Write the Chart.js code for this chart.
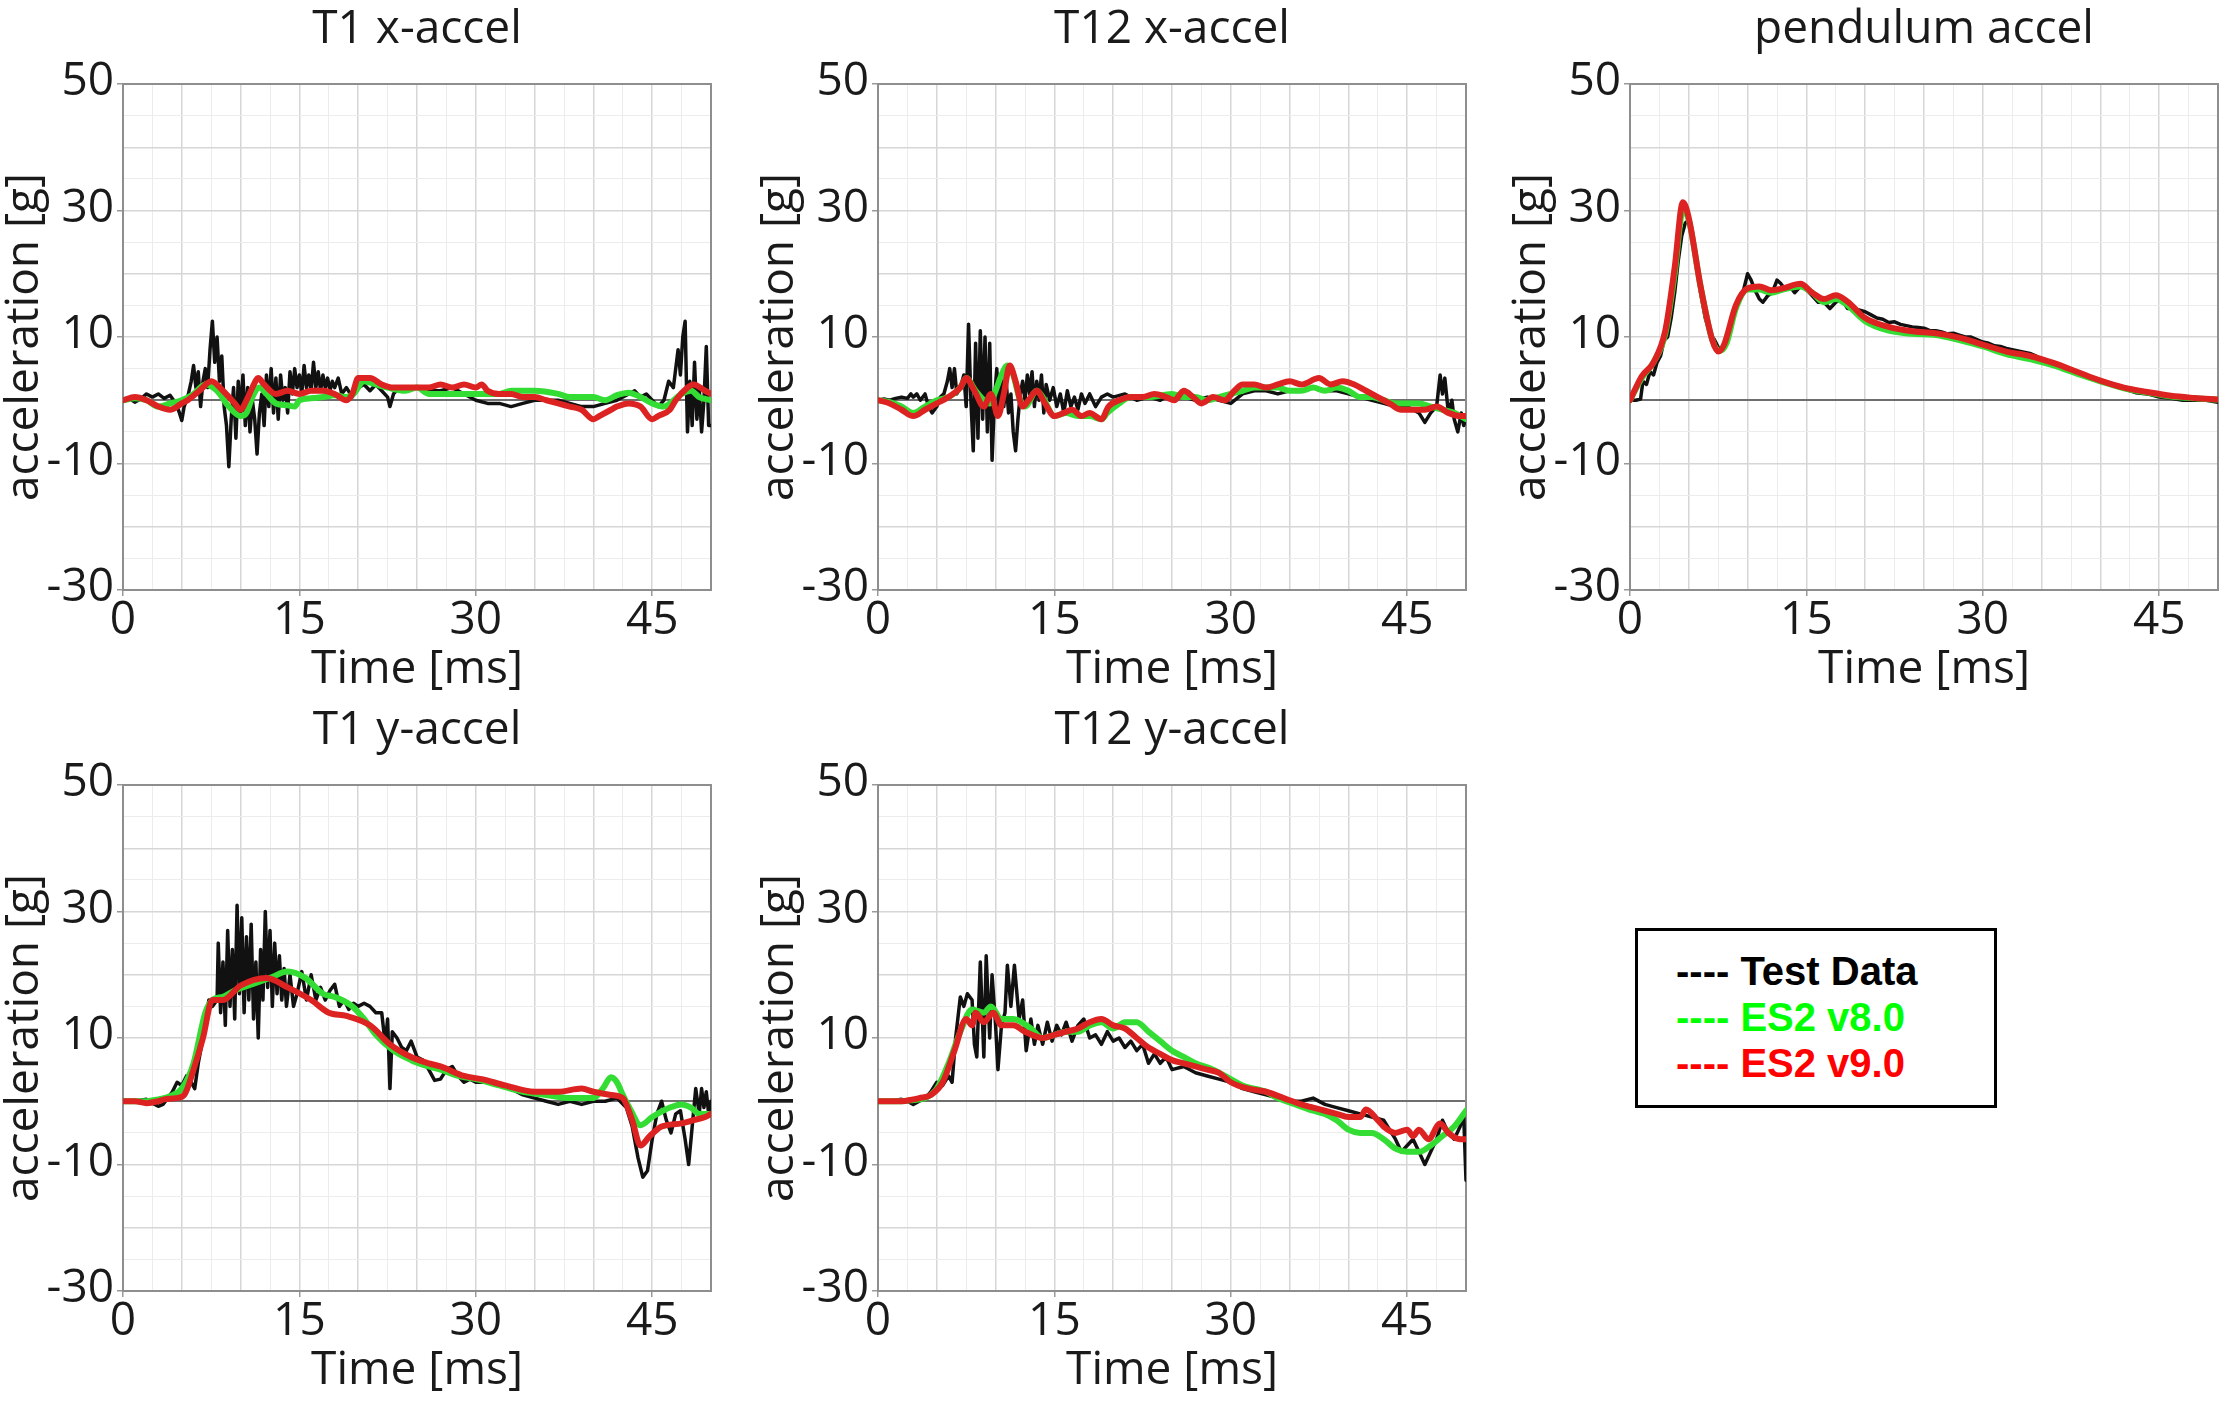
<!DOCTYPE html>
<html><head><meta charset="utf-8">
<script src="https://cdn.jsdelivr.net/npm/chart.js@4.4.1/dist/chart.umd.min.js"></script>
<style>
html,body{margin:0;padding:0;background:#fff;width:2224px;height:1401px;overflow:hidden;}
canvas{position:absolute;}
#legend{position:absolute;left:1635px;top:928px;width:362px;height:180px;box-sizing:border-box;border:3px solid #000;padding:17px 0 0 38px;font-family:'Liberation Sans',Arial,sans-serif;font-weight:bold;font-size:40px;line-height:46px;white-space:pre;}
</style></head><body>
<canvas id="c1" width="740" height="700" style="left:0px;top:0px"></canvas>
<canvas id="c2" width="740" height="700" style="left:755px;top:0px"></canvas>
<canvas id="c3" width="717" height="700" style="left:1507px;top:0px"></canvas>
<canvas id="c4" width="740" height="700" style="left:0px;top:701px"></canvas>
<canvas id="c5" width="740" height="700" style="left:755px;top:701px"></canvas>
<div id="legend"></div>
<script>
// ---------- categories / labels ----------
const panelTitles = ['T1 x-accel','T12 x-accel','pendulum accel','T1 y-accel','T12 y-accel'];
const seriesNames = ['Test Data','ES2 v8.0','ES2 v9.0'];
const xTitle = 'Time [ms]';
const yTitle = 'acceleration [g]';
const xGridValues = [0,2.5,5,7.5,10,12.5,15,17.5,20,22.5,25,27.5,30,32.5,35,37.5,40,42.5,45,47.5,50];
const xTickLabels = [0,15,30,45];
const xMajorGrid = [0,5,10,15,20,25,30,35,40,45,50];
const yGridValues = [-30,-25,-20,-15,-10,-5,0,5,10,15,20,25,30,35,40,45,50];
const yTickLabels = [-30,-10,10,30,50];
const yMajorGrid = [-30,-20,-10,0,10,20,30,40,50];

// ---------- series values [time ms, accel g] ----------
const t1xTest = [[0,0],[0.5,0.3],[1,-0.3],[1.5,0.2],[2,1],[2.5,0.5],[3,1],[3.5,0.3],[4,0.8],[4.5,-0.5],[4.8,-2],[5,-3.2],[5.2,-1],[5.5,0.5],[5.8,3],[6,5.5],[6.2,2],[6.4,4.5],[6.6,-1],[6.8,3],[7,5],[7.2,2],[7.4,8],[7.6,12.5],[7.8,6],[8,10],[8.2,3],[8.4,7],[8.6,-1],[8.8,-4],[9,-10.5],[9.2,-3],[9.4,2],[9.6,-6],[9.8,3],[10,-2],[10.2,4],[10.4,-4],[10.6,2],[10.8,-5],[11,0],[11.2,-3],[11.4,-8.5],[11.6,-2],[11.8,1],[12,-4],[12.2,4],[12.4,-1],[12.6,5],[12.8,-2],[13,3.5],[13.2,-3],[13.4,4],[13.6,0],[13.8,2],[14,-2],[14.2,4.5],[14.4,1],[14.6,5],[14.8,2],[15,4],[15.2,1],[15.4,5.5],[15.6,2],[15.8,4],[16,1.5],[16.2,6],[16.4,2],[16.6,4.5],[16.8,1.5],[17,4],[17.2,2],[17.4,3.5],[17.6,1.5],[17.8,3],[18,2],[18.3,3.5],[18.6,1],[19,2],[19.5,0.5],[20,2],[20.5,2.5],[21,1.5],[21.5,2.5],[22,1.5],[22.5,0.5],[22.7,-1],[23,1],[23.5,2],[24,1.5],[25,2],[26,1.5],[27,1.5],[28,2],[29,1],[30,0],[31,-0.5],[32,-0.5],[33,-1],[34,-0.5],[35,0],[36,0],[37,0],[38,-0.5],[39,-1],[40,-1],[41,-0.5],[42,0],[43,1],[43.5,1.5],[44,0.5],[44.5,1],[45,0],[45.5,-1],[46,0],[46.4,3],[46.8,2],[47.2,8],[47.4,4],[47.6,10],[47.8,12.5],[48,-5],[48.2,3],[48.4,-4],[48.6,6],[48.8,-3],[49,2],[49.2,-5],[49.4,0],[49.6,8.5],[49.8,-4],[50,-4]];
const t1xV8 = [[0,0],[1,0.3],[2,0],[3,-1],[4,-0.5],[5,0],[6,1],[7,2.5],[8,1.5],[9,-1],[10,-2.5],[10.5,-2],[11,0.5],[11.6,2],[12.2,1],[13,-0.5],[14,-0.8],[14.6,-1],[15,0],[16,0.3],[17,0.5],[18,0.8],[19,0.5],[19.6,1],[20.5,3],[21.5,2.5],[22.5,2],[24,1.5],[25,2],[26,1],[28,1],[30,1],[32,1],[33,1.5],[35,1.5],[37,1],[38,0.5],[40,0.5],[41,0],[42,0.8],[43,1.2],[44,0.5],[45,-0.5],[46,-1],[46.5,-0.5],[47.5,1],[48.3,1.5],[49,0.5],[50,0]];
const t1xV9 = [[0,0],[1,0.5],[2,0],[3,-1],[4,-1.5],[5,-0.5],[5.5,0],[6.5,1.5],[7.5,3],[8.5,1.5],[9.5,-0.5],[10,-1.5],[10.5,0],[11,2],[11.5,3.5],[12,2.5],[13,1],[14,1.5],[15,1],[16,1.5],[17,1.5],[18,1],[19,0],[19.5,1],[20,3.5],[21,3.5],[22,2.5],[23,2],[24,2],[25,2],[26,2],[27,2.5],[28,2],[29,2.5],[30,2],[30.5,2.5],[31,1.5],[32,1],[33,1],[34,0.5],[35,0.5],[36,0],[37,-0.5],[38,-1],[39,-1.5],[40,-3],[40.5,-2.5],[41.5,-1.5],[42,-1],[43,-0.5],[44,-1],[45,-3],[45.5,-2.5],[46.5,-1.5],[47,0],[48,2],[48.5,2.5],[49.5,1.5],[50,1]];

const t12xTest = [[0,0],[0.5,0.2],[1,0],[1.5,0.3],[2,0.5],[2.5,0.3],[2.8,1],[3,0.5],[3.3,1],[3.6,0],[4,1],[4.3,-1],[4.6,-2],[5,-1],[5.3,0.5],[5.6,1],[5.9,3],[6.1,5],[6.3,2],[6.5,5],[6.7,1],[7,2],[7.3,4],[7.5,-1],[7.7,12],[7.9,0],[8.1,-8],[8.3,9],[8.5,-6],[8.7,11],[8.9,-3],[9.1,10],[9.3,-5],[9.5,9],[9.7,-9.5],[9.9,0],[10.1,5],[10.3,-2],[10.5,4],[10.7,-1],[10.9,3],[11.1,-2],[11.3,1],[11.5,-5],[11.7,-8],[11.9,-3],[12.1,1],[12.3,3],[12.5,0],[12.7,4],[12.9,1],[13.1,4.5],[13.3,-1],[13.5,3],[13.7,0],[13.9,4],[14.1,-2],[14.3,2.5],[14.6,0],[14.9,2],[15.2,-1],[15.5,1],[15.8,-2],[16.1,1.5],[16.4,-1],[16.7,0.5],[17,-1.5],[17.3,1],[17.6,-0.5],[18,1],[18.5,-1],[19,0.5],[19.5,1],[20,0.5],[21,1],[22,0],[23,0.5],[24,0],[25,1],[26,0.5],[27,0],[28,0.5],[29,0],[30,-0.5],[31,1],[32,1.5],[33,1.5],[34,1],[35,1.5],[36,1.5],[37,2],[38,1.5],[39,1.5],[40,1],[41,0.5],[42,0],[43,-0.5],[44,-1],[45,-1],[45.5,-1.5],[46,-2],[46.5,-3.5],[47,-2],[47.5,-1],[47.8,4],[48,1],[48.2,3.5],[48.5,-2],[48.8,0],[49,-3],[49.3,-5],[49.6,-2],[49.8,-4],[50,-3]];
const t12xV8 = [[0,0],[1,-0.3],[2,-1],[3,-2],[4,-1],[5,0],[6,0.5],[7,2],[7.5,3.5],[8.3,1.5],[9,0],[9.5,-0.5],[10,1.5],[10.5,4],[11,5.5],[11.5,4],[12,0.5],[12.5,-1],[13.5,1.5],[14,0.5],[15,-2.5],[16,-2],[17,-2.5],[18,-2.5],[19,-3],[19.5,-2],[20.5,-0.5],[21.5,0.5],[23,0.5],[25,1],[26,0.5],[27,0.5],[28,0],[29,0.5],[30,1],[31,1.5],[32,2],[33,2],[34,2],[35,1.5],[36,1.5],[37,2],[38,1.5],[39,2],[40,1.5],[41,0.5],[42,0.5],[43,0],[44,-0.5],[45,-0.5],[46,-0.5],[47,-1],[48,-1.5],[49,-2],[50,-3]];
const t12xV9 = [[0,0],[1,-0.5],[2,-1.5],[3,-2.5],[4,-1.5],[5,-0.5],[6,0.5],[7,2],[7.5,3.5],[8.2,1.5],[9,-1],[9.6,1],[10.2,-2.5],[10.7,1],[11.2,5.5],[11.7,3],[12.3,-1],[12.8,0],[13.5,1.5],[14.2,-0.5],[15,-2.5],[15.8,-2],[16.5,-1.5],[17.3,-2.5],[18,-2],[19,-3],[19.6,-1],[20.5,0],[21.5,0.5],[22.5,0.5],[23.5,1],[24.5,0.5],[25.2,0],[26,1.5],[26.8,0.5],[27.5,-0.5],[28.5,0.5],[29.5,0],[30.3,1.5],[31,2.5],[32,2.5],[33,2],[34,2.5],[35,3],[36,2.5],[37.5,3.5],[38.5,2.5],[39.5,3],[40.5,2.5],[41.5,1.5],[42.5,0.5],[43.5,-0.5],[44.5,-1.5],[45.5,-1.5],[46.5,-1.5],[47.5,-1],[48.5,-2],[49.5,-2.5],[50,-2.5]];

const pendTest = [[0,0],[0.5,0],[0.9,0.2],[1.1,3],[1.4,2.5],[1.7,4.5],[2,4],[2.3,6],[2.6,7],[2.9,9.5],[3.2,10],[3.5,13],[3.8,17],[4.1,22],[4.4,26],[4.7,28],[5,28.5],[5.3,26],[5.6,22],[6,17],[6.4,13],[6.8,10.5],[7.2,9.5],[7.6,8],[8,8.5],[8.4,10],[8.8,13],[9.2,15.5],[9.6,17],[10,20],[10.3,19],[10.6,17.5],[11,16],[11.3,15.5],[11.7,16.5],[12.1,17],[12.5,19],[12.8,18.5],[13.2,17.5],[13.6,18],[14,17],[14.5,18],[15,17.5],[15.5,16.5],[16,15.5],[16.5,15.5],[17,14.5],[17.5,15.5],[18,16],[18.5,14.5],[19,14.5],[20,14],[20.5,13.5],[21,13],[21.5,12.8],[22,12.3],[22.5,12.4],[23,12],[23.5,11.8],[24,11.6],[24.5,11.5],[25,11.4],[25.5,11],[26,11],[26.5,10.8],[27,10.5],[27.5,10.6],[28,10.3],[28.5,10],[29,10],[29.5,9.6],[30,9.2],[30.5,9],[31,8.6],[31.5,8.5],[32,8.2],[32.5,8],[33,7.8],[33.5,7.6],[34,7.4],[34.5,7],[35,6.5],[36,5.8],[37,5],[38,4.2],[39,3.5],[40,3],[41,2.5],[42,1.8],[43,1.2],[44,1],[45,0.5],[46,0.3],[47,0],[48,0],[49,0],[50,-0.3]];
const pendV8 = [[0,0],[1,3.5],[2,6],[3,10.5],[3.8,20],[4.5,30],[5,28.5],[6,18],[7,9.5],[7.6,7.8],[8.2,9],[9,14.5],[10,17.5],[11,17.5],[12,17],[13,17.5],[14.5,18],[15.5,17],[16.5,15.5],[17.5,16],[18.5,15],[20,12.5],[22,11],[24,10.5],[26,10.3],[28,9.5],[30,8.5],[32,7.3],[34,6.5],[36,5.5],[38,4.2],[40,3],[42,1.9],[44,1.2],[46,0.6],[48,0.3],[50,0.1]];
const pendV9 = [[0,0],[1,3.8],[2,6],[3,11],[3.8,21],[4.5,31.3],[5,28.8],[6,18],[7,9.5],[7.5,7.7],[8,8.8],[9,15],[10,17.7],[11,18],[12,17.4],[13,17.7],[14.5,18.4],[15.5,17],[16.5,16],[17.5,16.6],[18.5,15.6],[20,13],[22,11.6],[24,10.9],[26,10.6],[28,9.9],[30,8.8],[32,7.7],[34,7],[36,5.9],[38,4.5],[40,3.1],[42,2],[44,1.3],[46,0.7],[48,0.36],[50,0.1]];

const t1yTest = [[0,0],[1,0],[2,0.3],[2.5,-0.3],[3,-0.8],[3.4,-0.5],[3.8,0.5],[4.2,1.5],[4.6,3],[5,2.5],[5.4,4],[5.8,3],[6.1,2],[6.4,6],[6.7,9],[7,12],[7.3,16],[7.6,15],[8,16],[8.1,25],[8.3,14],[8.5,22],[8.7,12],[8.9,27],[9.1,15],[9.3,24],[9.5,13],[9.7,31],[9.9,17],[10.1,29],[10.3,14],[10.5,26],[10.7,16],[10.9,28],[11.1,13],[11.3,22],[11.5,10],[11.7,24],[11.9,16],[12.1,30],[12.3,18],[12.5,27],[12.7,15],[12.9,25],[13.1,17],[13.3,23],[13.5,16],[13.7,21],[13.9,15],[14.2,20],[14.5,15],[14.8,17],[15.2,20.5],[15.6,16],[16,20],[16.4,16],[16.8,18],[17.2,16],[17.6,17.5],[18,18.5],[18.4,15],[18.8,16],[19.2,14.5],[19.6,15.5],[20,15],[20.5,15.5],[21,15],[21.5,14],[22,14],[22.3,9],[22.5,13],[22.7,2],[22.9,11],[23.3,10],[23.7,8.5],[24.1,8],[24.5,9.5],[25,7],[25.5,6.5],[26,5],[26.5,3.3],[27,3.5],[27.5,5],[28,5.5],[28.5,4],[29,3],[29.5,3.5],[30,3],[31,3],[32,2.5],[33,2],[34,1],[35,0.5],[36,0],[37,-0.5],[38,0],[39,-0.5],[40,0],[41,0],[42,0.5],[42.8,-1],[43.3,-4],[43.8,-9],[44.2,-12],[44.6,-11],[45,-6],[45.4,-2],[45.8,0],[46.2,-3],[46.6,-5],[47,-2],[47.4,-1.5],[47.8,-6],[48.1,-10],[48.4,-4],[48.7,2],[49,-2],[49.2,2],[49.4,-1],[49.6,1.5],[49.8,-2],[50,0]];
const t1yV8 = [[0,0],[1,0],[2,0],[3,0.3],[4,0.8],[5,2],[6,6],[7,14],[7.6,16],[8.5,16.5],[9.5,17.5],[11,18.5],[12.5,19.5],[14,20.5],[15.5,19.5],[17,17],[18,16.5],[19.5,15],[20.5,13],[21.5,10.5],[23,8],[24.5,6.5],[26,5.5],[27,5],[28.5,4],[30,3.5],[32,2.5],[34,1.5],[36,1],[38,0.5],[40,0.5],[40.8,2],[41.5,3.8],[42,3],[42.5,1],[43.2,-1.5],[44,-3.8],[45,-2.5],[46.5,-1],[47.5,-0.5],[48.3,-1],[49,-2],[50,-2]];
const t1yV9 = [[0,0],[1,0],[2,-0.3],[3,0],[3.5,0.3],[4.5,0.5],[5.2,1],[6,5],[6.8,10],[7.6,16],[8.5,16],[10,18.3],[12.2,19.5],[14,18],[16,16],[17.5,14],[19,13.5],[21,12],[22.7,9],[24.5,7],[26,6],[27,5.5],[29,4],[30.5,3.5],[32.5,2.5],[35,1.5],[37,1.5],[39,2],[40,1.5],[41.5,1],[42.5,0.5],[43.3,-3],[44,-7],[44.8,-5.5],[45.8,-4],[47.5,-3.5],[48.5,-3],[49.5,-2.5],[50,-2]];

const t12yTest = [[0,0],[1,0],[2,0.3],[2.5,0],[3,-0.5],[3.5,0],[4,0.5],[4.5,1.5],[5,3],[5.5,2.5],[6,4],[6.3,3],[6.6,10],[7,16.5],[7.3,15],[7.6,17],[8,16],[8.2,9],[8.4,7],[8.7,22],[9,7],[9.2,23],[9.5,10],[9.7,20],[10,12],[10.2,5],[10.5,12],[10.8,14],[11,21.5],[11.3,15],[11.6,21.5],[12,13],[12.3,16],[12.6,8],[13,13],[13.3,9],[13.6,12],[14,9],[14.4,12.5],[14.8,9.5],[15.2,12],[15.6,10.5],[16,12.5],[16.5,9.5],[17,12],[17.5,13],[18,10],[18.5,10.5],[19,9],[19.5,11],[20,9.5],[20.5,10],[21,8.5],[21.5,9.5],[22,8],[22.5,9],[23,6],[23.5,7.5],[24,6],[24.5,7],[25,5],[26,5.5],[27,4.5],[28,4],[29,3.5],[30,3],[31,2],[32,1.5],[33,1],[34,0.5],[35,0],[36,0],[37,0.5],[38,-0.5],[39,-1],[40,-1.5],[41,-2],[42,-2.5],[43,-3],[44,-6],[44.5,-8],[45,-7],[45.5,-6],[46,-8],[46.5,-10],[47,-8],[47.5,-6],[48,-3],[48.5,-5],[49,-6],[49.5,-4],[49.8,-2],[50,-12.5]];
const t12yV8 = [[0,0],[1,0],[2,0],[3,0.2],[4,0.5],[5,2],[6,6],[7,11],[8,14.5],[9,14],[9.6,15],[10.5,13],[11.5,13],[13,11.5],[14,10],[15,10.5],[16,11],[17,11],[18,12],[19,12.5],[20,11.5],[21,12.5],[22,12.5],[23,11],[24,9.5],[25,8],[26,7],[27,6],[28.5,5],[30,3.5],[31,2.5],[33,1.5],[34,0.5],[35.5,-0.5],[37,-1.5],[38,-2],[39,-3],[40,-4.5],[41,-5],[42,-5],[43,-6],[44,-7.5],[45,-8],[46,-8],[47,-7],[48,-5.5],[49,-4],[50,-1.5]];
const t12yV9 = [[0,0],[1,0],[2,0],[3,0.3],[3.5,0.5],[4.5,1],[5.5,3],[6.5,8],[7.5,13],[8,12],[8.3,14],[9,12.5],[9.8,14],[10.5,12],[11.5,12],[12.5,11],[14,10],[15,10.5],[16,11],[17,11.5],[18,12.5],[19,13],[20,12],[21,11.5],[22,10],[23,8.5],[24,7.5],[25,6.5],[26,6],[27,5.5],[28,5],[29,4.5],[30,3],[31.5,2],[33,1.5],[34.5,0.5],[36,-0.5],[37,-1],[38,-1.5],[39,-2],[40,-2.5],[41,-2.5],[41.5,-1.3],[42.5,-3],[43,-4],[44,-5],[45,-4.5],[45.5,-5.5],[46,-4.5],[46.8,-6],[47.8,-3.5],[48.5,-5],[49.5,-6],[50,-6]];

// ---------- styling ----------
const FONT = "'Open Sans', 'Noto Sans', sans-serif";
const FS = 46;
const lineColors = ['#111111','#33dd33','#dd2222'];
const legendColors = ['#000000','#00ff00','#ff0000'];
const lineWidths = [3.5,6,6];

const panels = [
  {id:'c1', title:panelTitles[0], series:[t1xTest,t1xV8,t1xV9], rightPad:29},
  {id:'c2', title:panelTitles[1], series:[t12xTest,t12xV8,t12xV9], rightPad:29},
  {id:'c3', title:panelTitles[2], series:[pendTest,pendV8,pendV9], rightPad:6},
  {id:'c4', title:panelTitles[3], series:[t1yTest,t1yV8,t1yV9], rightPad:29},
  {id:'c5', title:panelTitles[4], series:[t12yTest,t12yV8,t12yV9], rightPad:29}
];

const titlePlugin = {
  id:'panelTitle',
  afterDraw(chart, args, opts){
    const {ctx, chartArea} = chart;
    ctx.save();
    ctx.font = FS + 'px ' + FONT;
    ctx.fillStyle = '#1a1a1a';
    ctx.textAlign = 'center';
    ctx.textBaseline = 'alphabetic';
    ctx.fillText(opts.text, (chartArea.left + chartArea.right)/2, 42.5);
    ctx.restore();
  }
};
const framePlugin = {
  id:'frame',
  beforeDatasetsDraw(chart){
    const {ctx, chartArea:a} = chart;
    ctx.save();
    ctx.strokeStyle = '#8e8e8e';
    ctx.lineWidth = 2;
    ctx.strokeRect(a.left, a.top, a.right - a.left, a.bottom - a.top);
    ctx.restore();
  }
};

Chart.defaults.font.family = FONT;
Chart.defaults.font.size = FS;
Chart.defaults.color = '#1a1a1a';

panels.forEach(p => {
  const datasets = p.series.map((s, i) => ({
    label: seriesNames[i],
    data: s.map(d => ({x:d[0], y:d[1]})),
    borderColor: lineColors[i],
    borderWidth: lineWidths[i],
    pointRadius: 0,
    fill: false,
    tension: 0,
    cubicInterpolationMode: i === 0 ? 'default' : 'monotone',
    borderJoinStyle: 'round',
    borderCapStyle: 'round',
    order: 2 - i
  }));
  new Chart(document.getElementById(p.id), {
    type:'line',
    data:{datasets},
    plugins:[titlePlugin, framePlugin],
    options:{
      responsive:false,
      animation:false,
      devicePixelRatio:1,
      layout:{padding:{top:84, right:p.rightPad, bottom:0, left:0}},
      plugins:{
        legend:{display:false},
        tooltip:{enabled:false},
        panelTitle:{text:p.title}
      },
      scales:{
        x:{
          type:'linear', min:0, max:50,
          afterBuildTicks: s => { s.ticks = xGridValues.map(v => ({value:v})); },
          afterFit: s => { s.height = 110; },
          ticks:{
            autoSkip:false, maxRotation:0, padding:2,
            font:{size:FS, lineHeight:1},
            callback: v => xTickLabels.includes(v) ? String(v) : ''
          },
          grid:{
            drawTicks:true, tickLength:6,
            color: c => xMajorGrid.includes(c.tick.value) ? '#d6d6d6' : '#ececec',
            lineWidth: c => xMajorGrid.includes(c.tick.value) ? 1.5 : 1,
            tickColor: c => xTickLabels.includes(c.tick.value) ? '#999999' : 'rgba(0,0,0,0)',
            tickWidth: 1.5
          },
          border:{display:false},
          title:{display:true, text:xTitle, font:{size:FS, lineHeight:1.2}, padding:{top:0, bottom:3}}
        },
        y:{
          type:'linear', min:-30, max:50,
          afterBuildTicks: s => { s.ticks = yGridValues.map(v => ({value:v})); },
          afterFit: s => { s.width = 123; },
          ticks:{
            autoSkip:false, padding:3, labelOffset:-2,
            font:{size:FS, lineHeight:1},
            callback: v => yTickLabels.includes(v) ? String(v) : ''
          },
          grid:{
            drawTicks:true, tickLength:6,
            color: c => c.tick.value === 0 ? '#6e6e6e' : (yMajorGrid.includes(c.tick.value) ? '#d6d6d6' : '#ececec'),
            lineWidth: c => c.tick.value === 0 ? 2 : (yMajorGrid.includes(c.tick.value) ? 1.5 : 1),
            tickColor: c => yTickLabels.includes(c.tick.value) ? '#999999' : 'rgba(0,0,0,0)',
            tickWidth: 1.5
          },
          border:{display:false},
          title:{display:true, text:yTitle, font:{size:FS, lineHeight:1.1}, padding:{top:0, bottom:0}}
        }
      }
    }
  });
});

// legend
const legendEl = document.getElementById('legend');
seriesNames.forEach((n, i) => {
  const d = document.createElement('div');
  d.style.color = legendColors[i];
  d.textContent = '---- ' + n;
  legendEl.appendChild(d);
});
</script>
</body></html>
